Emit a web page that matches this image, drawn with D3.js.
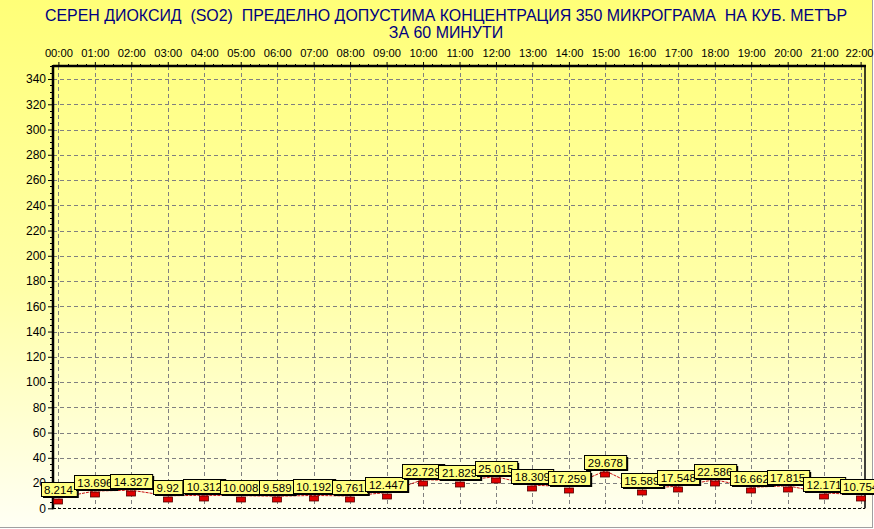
<!DOCTYPE html>
<html><head><meta charset="utf-8">
<script src="https://cdn.jsdelivr.net/npm/d3@7"></script>
<style>html,body{margin:0;padding:0;background:#fff;}svg{display:block;} text{white-space:pre;}</style>
</head><body>
<svg id="chart" width="874" height="529"></svg>
<script>
// ---- data ----
const hours = ["00:00","01:00","02:00","03:00","04:00","05:00","06:00","07:00","08:00","09:00","10:00","11:00","12:00","13:00","14:00","15:00","16:00","17:00","18:00","19:00","20:00","21:00","22:00"];
const values = [8.214,13.696,14.327,9.92,10.312,10.008,9.589,10.192,9.761,12.447,22.729,21.829,25.015,18.309,17.259,29.678,15.589,17.548,22.586,16.662,17.815,12.171,10.754];
const yTicks = [0,20,40,60,80,100,120,140,160,180,200,220,240,260,280,300,320,340];
const titleLines = ["СЕРЕН ДИОКСИД  (SO2)  ПРЕДЕЛНО ДОПУСТИМА КОНЦЕНТРАЦИЯ 350 МИКРОГРАМА  НА КУБ. МЕТЪР","ЗА 60 МИНУТИ"];

const W = 874, H = 529;
const svg = d3.select("#chart");
const plot = {left:53, right:865, top:66, bottom:508.3};
const FONT = "'Liberation Sans', Arial, sans-serif";

const defs = svg.append("defs");
const grad = defs.append("linearGradient").attr("id","bg").attr("x1",0).attr("y1",0).attr("x2",0).attr("y2",1);
grad.append("stop").attr("offset","0%").attr("stop-color","#ffff78");
grad.append("stop").attr("offset","55%").attr("stop-color","#ffffa8");
grad.append("stop").attr("offset","100%").attr("stop-color","#fffff4");

svg.append("rect").attr("x",0).attr("y",0).attr("width",W).attr("height",H).attr("fill","#ffffff");
svg.append("rect").attr("x",0).attr("y",0).attr("width",872).attr("height",527).attr("fill","url(#bg)");
svg.append("line").attr("x1",0).attr("x2",873).attr("y1",527.5).attr("y2",527.5).attr("stroke","#a0a0a0");
svg.append("line").attr("x1",872.5).attr("x2",872.5).attr("y1",0).attr("y2",528).attr("stroke","#a0a0a0");

const x = d3.scaleLinear().domain([0, hours.length-1]).range([58.4, 860.6]);
const y = d3.scaleLinear().domain([0,350]).range([plot.bottom, plot.top+0.4]);

// title
const title = svg.append("g").attr("font-family",FONT).attr("fill","#000080").attr("text-anchor","middle");
const t1 = title.append("text").attr("x",446).attr("y",20.5).attr("font-size",16).attr("xml:space","preserve").text(titleLines[0]);
const tw = t1.node().getComputedTextLength();
const fs = 16*803/tw;
t1.attr("font-size",fs);
title.append("text").attr("x",446).attr("y",38).attr("font-size",fs).text(titleLines[1]);

// grid
const grid = svg.append("g").attr("stroke","#808080").attr("stroke-dasharray","4,3").attr("stroke-width",1);
grid.selectAll("line.h").data(yTicks.filter(d=>d>0)).join("line")
  .attr("x1",plot.left).attr("x2",plot.right)
  .attr("y1",d=>Math.round(y(d))+0.5).attr("y2",d=>Math.round(y(d))+0.5);
grid.selectAll("line.v").data(hours.map((h,i)=>i)).join("line")
  .attr("x1",d=>Math.round(x(d))+0.5).attr("x2",d=>Math.round(x(d))+0.5)
  .attr("y1",plot.top).attr("y2",plot.bottom);

// left axis
const yAxis = d3.axisLeft(y).tickValues(yTicks).tickSize(5).tickPadding(2).tickFormat(d3.format("d"));
const gy = svg.append("g").attr("transform",`translate(${plot.left},0)`).call(yAxis);
gy.select(".domain").remove();
gy.selectAll(".tick line").attr("stroke","#000");
gy.selectAll(".tick text").attr("font-family",FONT).attr("font-size",12).attr("fill","#000");
// minor y ticks
const minorY = d3.range(0,351,5).filter(v=>v%20!==0);
svg.append("g").selectAll("line").data(minorY).join("line")
  .attr("x1",plot.left-3).attr("x2",plot.left)
  .attr("y1",d=>Math.round(y(d))+0.5).attr("y2",d=>Math.round(y(d))+0.5).attr("stroke","#000");

// top axis
const xAxis = d3.axisTop(x).tickValues(hours.map((h,i)=>i)).tickSize(4).tickPadding(5).tickFormat(i=>hours[i]);
const gx = svg.append("g").attr("transform",`translate(0,${plot.top})`).call(xAxis);
gx.select(".domain").remove();
gx.selectAll(".tick line").attr("stroke","#000");
gx.selectAll(".tick text").attr("font-family",FONT).attr("font-size",11.2).attr("fill","#000");
gx.selectAll(".tick text").filter(i=>i===hours.length-1).attr("dx",-1.5);
const minorX = d3.range(0, hours.length-1, 0.25).filter(v=>v%1!==0);
svg.append("g").selectAll("line").data(minorX).join("line")
  .attr("x1",d=>Math.round(x(d))+0.5).attr("x2",d=>Math.round(x(d))+0.5)
  .attr("y1",plot.top-2).attr("y2",plot.top).attr("stroke","#000");

// frame
svg.append("line").attr("x1",plot.left).attr("x2",plot.left).attr("y1",plot.top-1).attr("y2",plot.bottom+1).attr("stroke","#000").attr("stroke-width",2.5);
svg.append("line").attr("x1",plot.left).attr("x2",plot.right+1).attr("y1",plot.top).attr("y2",plot.top).attr("stroke","#000").attr("stroke-width",2.5);
svg.append("line").attr("x1",plot.right).attr("x2",plot.right).attr("y1",plot.top).attr("y2",plot.bottom).attr("stroke","#000").attr("stroke-width",1.5);
svg.append("line").attr("x1",plot.left).attr("x2",plot.right).attr("y1",Math.round(plot.bottom)+0.5).attr("y2",Math.round(plot.bottom)+0.5).attr("stroke","#000").attr("stroke-dasharray","3,2");

// line
const line = d3.line().x((d,i)=>x(i)).y(d=>y(d));
svg.append("path").datum(values).attr("d",line).attr("fill","none").attr("stroke","#c81010").attr("stroke-width",1).attr("stroke-dasharray","3,1");

// markers
svg.append("g").selectAll("rect").data(values).join("rect")
  .attr("x",(d,i)=>Math.round(x(i))-4.5).attr("y",d=>Math.round(y(d))+1)
  .attr("width",9).attr("height",5)
  .attr("fill","#e00000").attr("stroke","#500000").attr("stroke-width",0.8);

// labels
const lab = svg.append("g").attr("font-family",FONT).attr("font-size",11.5);
values.forEach((v,i)=>{
  const g = lab.append("g");
  const txt = String(v);
  const by = Math.round(y(v)) - 15.5, bh = 14;
  const t = g.append("text").attr("text-anchor","middle").attr("x",x(i)).attr("y",by+11).attr("fill","#000").text(txt);
  const w = t.node().getComputedTextLength() + 7;
  const bx = Math.round(x(i) - w/2) + 0.5;
  g.insert("rect","text").attr("x",bx+1.5).attr("y",by+1.5).attr("width",w).attr("height",bh).attr("fill","#000");
  g.insert("rect","text").attr("x",bx).attr("y",by).attr("width",w).attr("height",bh).attr("fill","#ffff80").attr("stroke","#000");
});
</script>
</body></html>
